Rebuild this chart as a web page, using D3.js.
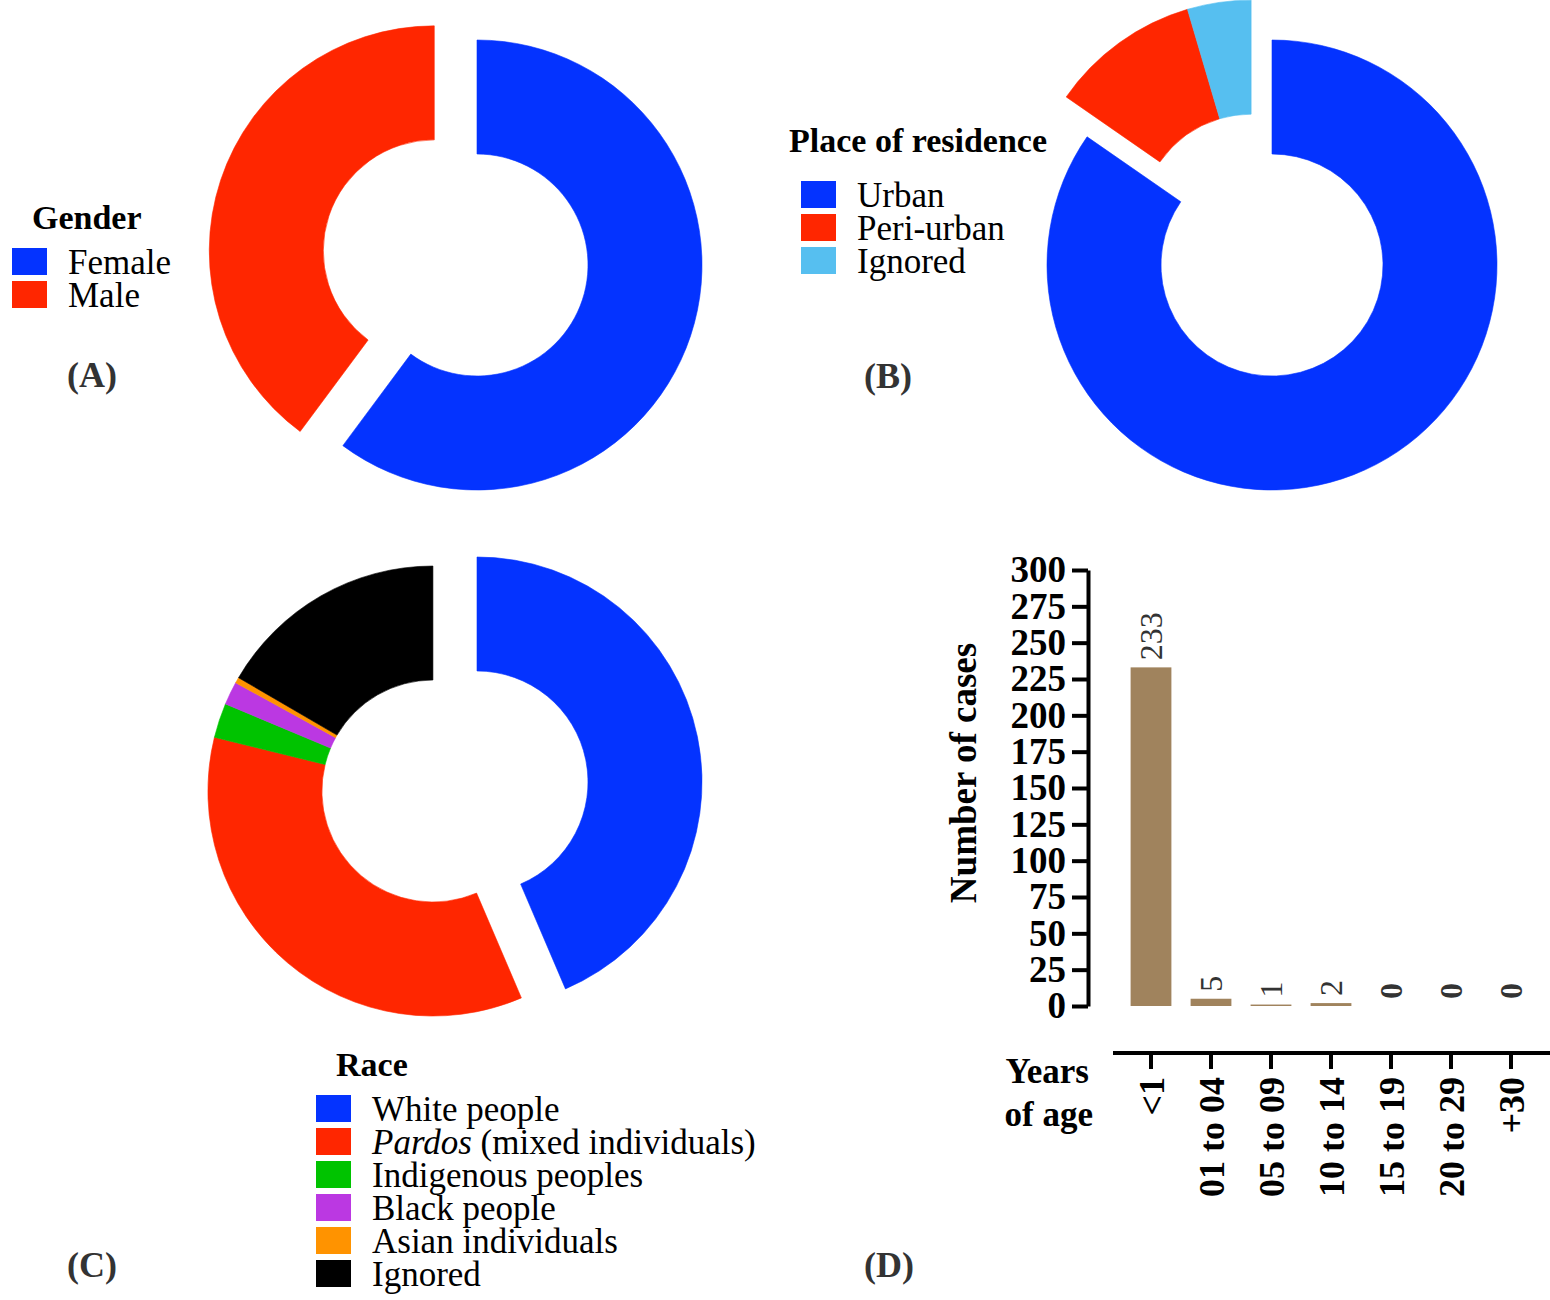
<!DOCTYPE html>
<html>
<head>
<meta charset="utf-8">
<script src="https://cdn.jsdelivr.net/npm/d3@7"></script>
<style>
  body { margin: 0; background: #fff; }
  svg { display: block; font-family: "Liberation Serif", "Times New Roman", serif; }
</style>
</head>
<body>
<svg id="chart" width="1550" height="1300"></svg>
<script>
// Panel A - gender
const genderLabels = ["Female", "Male"];
const genderCases = [145, 96];

// Panel B - place of residence
const residenceLabels = ["Urban", "Peri-urban", "Ignored"];
const residenceCases = [204, 26, 11];

// Panel C - race
const raceLabels = ["White people", "Pardos", "Indigenous peoples", "Black people", "Asian individuals", "Ignored"];
const raceCases = [105, 85, 6, 4, 1, 40];

// Panel D - age groups
const ageGroups = ["<1", "01 to 04", "05 to 09", "10 to 14", "15 to 19", "20 to 29", "+30"];
const ageCases = [233, 5, 1, 2, 0, 0, 0];
const yTicks = [0, 25, 50, 75, 100, 125, 150, 175, 200, 225, 250, 275, 300];

const blue = "#0433ff", red = "#ff2600";
const genderColors = [blue, red];
const residenceColors = [blue, red, "#56bff0"];
const raceColors = [blue, red, "#00c300", "#bb38e2", "#ff9300", "#000000"];

const svg = d3.select("#chart");

const arc = d3.arc().innerRadius(111).outerRadius(225);
const pie = d3.pie().sort(null).value(d => d);

// donut where every slice after the first is pulled out together
function donut(values, colors, cx, cy) {
  const arcs = pie(values);
  const groupStart = arcs[1].startAngle;
  const mid = (groupStart + 2 * Math.PI) / 2;
  const dx = 45 * Math.sin(mid), dy = -45 * Math.cos(mid);
  const g = svg.append("g").attr("transform", `translate(${cx},${cy})`);
  g.selectAll("path")
    .data(arcs)
    .enter()
    .append("path")
    .attr("d", arc)
    .attr("fill", (d, i) => colors[i])
    .attr("stroke", (d, i) => colors[i])
    .attr("stroke-width", 0.6)
    .attr("transform", (d, i) => i === 0 ? null : `translate(${dx},${dy})`);
}

function legend(title, labels, colors, x, titleX, titleY, firstY, step) {
  const g = svg.append("g");
  g.append("text")
    .attr("x", titleX).attr("y", titleY)
    .attr("font-size", 34).attr("font-weight", "bold")
    .text(title);
  labels.forEach((lab, i) => {
    const y = firstY + i * step;
    g.append("rect")
      .attr("x", x).attr("y", y)
      .attr("width", 35).attr("height", 27)
      .attr("fill", colors[i]);
    const t = g.append("text")
      .attr("x", x + 56).attr("y", y + 26)
      .attr("font-size", 35);
    if (lab === "Pardos") {
      t.append("tspan").attr("font-style", "italic").text("Pardos");
      t.append("tspan").text(" (mixed individuals)");
    } else {
      t.text(lab);
    }
  });
}

function panelLabel(txt, x, y) {
  svg.append("text")
    .attr("x", x).attr("y", y)
    .attr("font-size", 36).attr("font-weight", "bold")
    .attr("fill", "#333")
    .text(txt);
}

donut(genderCases, genderColors, 477, 265);
donut(residenceCases, residenceColors, 1272, 265);
donut(raceCases, raceColors, 477, 782);

legend("Gender", genderLabels, genderColors, 12, 32, 229, 248, 33);
legend("Place of residence", residenceLabels, residenceColors, 801, 789, 152, 181, 33);
legend("Race", raceLabels, raceColors, 316, 336, 1076, 1095, 33);

panelLabel("(A)", 67, 387);
panelLabel("(B)", 864, 388);
panelLabel("(C)", 67, 1277);
panelLabel("(D)", 864, 1277);

// Panel D - bar chart
const x = d3.scaleBand()
  .domain(ageGroups)
  .range([1121, 1541])
  .paddingInner(0.32)
  .paddingOuter(0.16);

const y = d3.scaleLinear().domain([0, 300]).range([1006, 570]);

const yAxis = svg.append("g")
  .attr("transform", "translate(1088,0)")
  .call(d3.axisLeft(y).tickValues(yTicks).tickSize(16).tickPadding(6).tickSizeOuter(0));
yAxis.select(".domain").attr("stroke-width", 4).attr("stroke", "#000");
yAxis.selectAll(".tick line").attr("stroke-width", 4).attr("stroke", "#000");
yAxis.selectAll(".tick text")
  .attr("font-family", "Liberation Serif, serif")
  .attr("font-size", 37).attr("font-weight", "bold").attr("fill", "#000");

svg.append("g")
  .selectAll("rect")
  .data(ageCases)
  .enter()
  .append("rect")
  .attr("x", (d, i) => x(ageGroups[i]))
  .attr("y", d => y(d))
  .attr("width", x.bandwidth())
  .attr("height", d => y(0) - y(d))
  .attr("fill", "#a0835d");

svg.append("g")
  .selectAll("text")
  .data(ageCases)
  .enter()
  .append("text")
  .attr("transform", (d, i) => `translate(${x(ageGroups[i]) + x.bandwidth() / 2},${y(d) - 7}) rotate(-90)`)
  .attr("dy", "0.35em")
  .attr("font-size", 32)
  .attr("font-weight", d => d === 0 ? "bold" : "normal")
  .attr("fill", "#333")
  .text(d => d);

const xAxis = svg.append("g")
  .attr("transform", "translate(0,1053)")
  .call(d3.axisBottom(x).tickSize(16).tickSizeOuter(0));
xAxis.select(".domain").attr("d", "M1113,0H1550").attr("stroke-width", 4).attr("stroke", "#000");
xAxis.selectAll(".tick line").attr("stroke-width", 4).attr("stroke", "#000");
xAxis.selectAll(".tick text")
  .attr("font-family", "Liberation Serif, serif")
  .attr("font-size", 36).attr("font-weight", "bold").attr("fill", "#000")
  .attr("text-anchor", "end")
  .attr("transform", "rotate(-90)")
  .attr("x", -24).attr("y", 0).attr("dy", "0.35em");

svg.append("text")
  .attr("transform", "translate(963,773) rotate(-90)")
  .attr("text-anchor", "middle").attr("dy", "0.35em")
  .attr("font-size", 37).attr("font-weight", "bold")
  .text("Number of cases");

svg.append("text")
  .attr("x", 1089).attr("y", 1083)
  .attr("text-anchor", "end")
  .attr("font-size", 35).attr("font-weight", "bold")
  .text("Years");
svg.append("text")
  .attr("x", 1093).attr("y", 1126)
  .attr("text-anchor", "end")
  .attr("font-size", 35).attr("font-weight", "bold")
  .text("of age");
</script>
</body>
</html>
